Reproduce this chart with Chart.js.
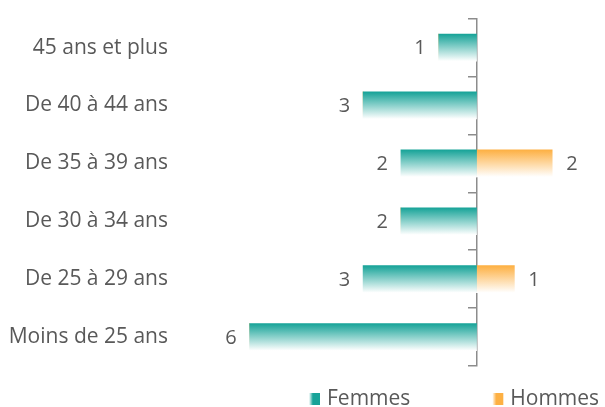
<!DOCTYPE html>
<html>
<head>
<meta charset="utf-8">
<script src="https://cdn.jsdelivr.net/npm/chart.js@4.4.0/dist/chart.umd.min.js"></script>
<style>
  html, body { margin: 0; padding: 0; background: #fff; }
  #wrap { width: 605px; height: 407px; }
</style>
</head>
<body>
<div id="wrap"><canvas id="chart"></canvas></div>
<script>
// Tranches d'âge, du haut vers le bas
const categories = ['45 ans et plus', 'De 40 à 44 ans', 'De 35 à 39 ans', 'De 30 à 34 ans', 'De 25 à 29 ans', 'Moins de 25 ans'];
const femmes = [1, 3, 2, 2, 3, 6];
const hommes = [0, 0, 2, 0, 1, 0];
const seriesNames = ['Femmes', 'Hommes'];

const TEAL = '#17a398';
const ORANGE = '#fdb043';
const TEXT = '#595959';
const FONT = '"Open Sans", sans-serif';
const BAR_H = 27;

// dégradé vertical : couleur en haut, blanc en bas
function barGradient(color) {
    return function(c) {
        const chart = c.chart;
        const y = chart.scales.y;
        if (!y || y.top === undefined || c.dataIndex === undefined) return color;
        const mid = y.getPixelForValue(c.dataIndex);
        const g = chart.ctx.createLinearGradient(0, mid - BAR_H / 2, 0, mid + BAR_H / 2);
        g.addColorStop(0, color);
        g.addColorStop(1, '#ffffff');
        return g;
    };
}

// valeurs à côté des barres
const valueLabels = {
    id: 'valueLabels',
    afterDatasetsDraw(chart) {
        const ctx = chart.ctx;
        ctx.save();
        ctx.font = '20px ' + FONT;
        ctx.fillStyle = TEXT;
        ctx.textBaseline = 'middle';
        chart.data.datasets.forEach((ds, i) => {
            chart.getDatasetMeta(i).data.forEach((bar, j) => {
                const v = ds.data[j];
                if (!v) return;
                if (v < 0) {
                    ctx.textAlign = 'right';
                    ctx.fillText(String(-v), bar.x - 13, bar.y + 1);
                } else {
                    ctx.textAlign = 'left';
                    ctx.fillText(String(v), bar.x + 14, bar.y + 1);
                }
            });
        });
        ctx.restore();
    }
};

// légende en bas à droite
const bottomLegend = {
    id: 'bottomLegend',
    afterDraw(chart) {
        const ctx = chart.ctx;
        const colors = [TEAL, ORANGE];
        ctx.save();
        ctx.font = '21px ' + FONT;
        ctx.textBaseline = 'middle';
        ctx.textAlign = 'left';
        let x = 309;
        const y = 399;
        seriesNames.forEach((name, i) => {
            const g = ctx.createLinearGradient(x, 0, x + 11, 0);
            g.addColorStop(0, '#ffffff');
            g.addColorStop(0.35, colors[i]);
            g.addColorStop(1, colors[i]);
            ctx.fillStyle = g;
            ctx.fillRect(x, y - 6, 11, 12);
            ctx.fillStyle = TEXT;
            ctx.fillText(name, x + 18, y);
            x += 18 + ctx.measureText(name).width + 82;
        });
        ctx.restore();
    }
};

new Chart(document.getElementById('chart'), {
    type: 'bar',
    data: {
        labels: categories,
        datasets: [
            {
                label: seriesNames[0],
                data: femmes.map(v => -v),
                backgroundColor: barGradient(TEAL),
                barThickness: BAR_H
            },
            {
                label: seriesNames[1],
                data: hommes,
                backgroundColor: barGradient(ORANGE),
                barThickness: BAR_H
            }
        ]
    },
    options: {
        indexAxis: 'y',
        responsive: true,
        maintainAspectRatio: false,
        animation: false,
        layout: { padding: { top: 17, right: 15, bottom: 41, left: 0 } },
        scales: {
            x: {
                display: false,
                stacked: true,
                min: -8,
                max: 3
            },
            y: {
                stacked: true,
                offset: true,
                grid: { display: false, drawTicks: false, offset: true },
                border: { display: false },
                ticks: {
                    color: TEXT,
                    padding: 6,
                    font: { family: FONT, size: 21 }
                },
                afterFit(scale) { scale.width = 174; }
            },
            axe: {
                type: 'category',
                axis: 'y',
                labels: categories,
                position: { x: 0 },
                offset: true,
                grid: {
                    offset: true,
                    drawOnChartArea: false,
                    drawTicks: true,
                    tickLength: 8,
                    color: '#8c8c8c',
                    lineWidth: 1.5
                },
                border: { display: true, color: '#8c8c8c', width: 1.5 },
                ticks: { display: false }
            }
        },
        plugins: {
            legend: { display: false },
            tooltip: { enabled: true }
        }
    },
    plugins: [valueLabels, bottomLegend]
});
</script>
</body>
</html>
